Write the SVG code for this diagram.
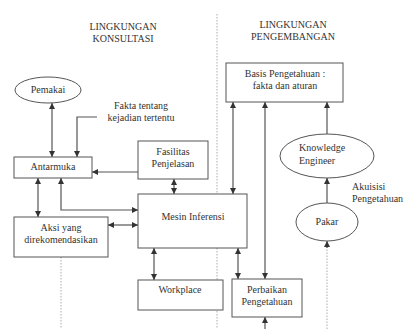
<svg xmlns="http://www.w3.org/2000/svg" width="403" height="329" viewBox="0 0 403 329">
<defs>
<style>
text{font-family:"Liberation Serif","Times New Roman",serif;font-size:10px;fill:#333;text-anchor:middle}
.box{fill:#fff;stroke:#555;stroke-width:1}
.ln{fill:none;stroke:#555;stroke-width:1.2}
.dot{fill:none;stroke:#aaa;stroke-width:1;stroke-dasharray:1.5 1.5}
</style>
<marker id="a" viewBox="0 0 6 6" refX="6" refY="3" markerWidth="6" markerHeight="6" markerUnits="userSpaceOnUse" orient="auto-start-reverse">
<path d="M0,0 L6,3 L0,6 z" fill="#333"/>
</marker>
</defs>
<rect width="403" height="329" fill="#fff"/>
<g id="dividers">
<line class="dot" x1="217" y1="14" x2="217" y2="329"/>
<line class="dot" x1="61" y1="257" x2="61" y2="329"/>
</g>
<g id="headers">
<text x="123" y="30">LINGKUNGAN</text>
<text x="123" y="42">KONSULTASI</text>
<text x="293" y="28">LINGKUNGAN</text>
<text x="293" y="40">PENGEMBANGAN</text>
<text x="141" y="109">Fakta tentang</text>
<text x="141" y="121">kejadian tertentu</text>
<text x="352" y="190" style="text-anchor:start">Akuisisi</text>
<text x="352" y="202" style="text-anchor:start">Pengetahuan</text>
</g>
<g id="connectors">
<line class="ln" x1="52" y1="103" x2="52" y2="157" marker-start="url(#a)" marker-end="url(#a)"/>
<polyline class="ln" points="97,117 77,117 77,157" marker-end="url(#a)"/>
<line class="ln" x1="138" y1="172" x2="92" y2="172" marker-end="url(#a)"/>
<line class="ln" x1="174" y1="179" x2="174" y2="194" marker-start="url(#a)" marker-end="url(#a)"/>
<polyline class="ln" points="61,178 61,210 138,210" marker-start="url(#a)" marker-end="url(#a)"/>
<line class="ln" x1="38" y1="178" x2="38" y2="217" marker-start="url(#a)" marker-end="url(#a)"/>
<line class="ln" x1="108" y1="225" x2="138" y2="225" marker-start="url(#a)" marker-end="url(#a)"/>
<line class="ln" x1="154" y1="248" x2="154" y2="280" marker-start="url(#a)" marker-end="url(#a)"/>
<line class="ln" x1="238" y1="248" x2="238" y2="279" marker-start="url(#a)" marker-end="url(#a)"/>
<line class="ln" x1="233" y1="102" x2="233" y2="194" marker-start="url(#a)" marker-end="url(#a)"/>
<line class="ln" x1="265" y1="102" x2="265" y2="279" marker-start="url(#a)" marker-end="url(#a)"/>
<line class="ln" x1="327" y1="134" x2="327" y2="102" marker-end="url(#a)"/>
<line class="ln" x1="327" y1="203" x2="327" y2="178" marker-end="url(#a)"/>
<line class="ln" x1="265" y1="329" x2="265" y2="317" marker-end="url(#a)"/>
<line class="dot" x1="327" y1="329" x2="327" y2="247"/>
<line class="ln" x1="327" y1="248" x2="327" y2="241" marker-end="url(#a)"/>
</g>
<g id="pemakai">
<ellipse class="box" cx="48" cy="90" rx="33" ry="13"/>
<text x="48" y="93">Pemakai</text>
</g>
<g id="antarmuka">
<rect class="box" x="14" y="157" width="78" height="21"/>
<text x="53" y="170">Antarmuka</text>
</g>
<g id="fasilitas">
<rect class="box" x="138" y="141" width="70" height="38"/>
<text x="173" y="155">Fasilitas</text>
<text x="173" y="167">Penjelasan</text>
</g>
<g id="aksi">
<rect class="box" x="14" y="217" width="94" height="40"/>
<text x="61" y="231">Aksi yang</text>
<text x="61" y="243">direkomendasikan</text>
</g>
<g id="mesin">
<rect class="box" x="138" y="194" width="109" height="54"/>
<text x="193" y="220">Mesin Inferensi</text>
</g>
<g id="workplace">
<rect class="box" x="138" y="280" width="85" height="30"/>
<text x="180" y="293">Workplace</text>
</g>
<g id="perbaikan">
<rect class="box" x="232" y="279" width="70" height="38"/>
<text x="267" y="293">Perbaikan</text>
<text x="267" y="305">Pengetahuan</text>
</g>
<g id="basis">
<rect class="box" x="226" y="63" width="117" height="39"/>
<text x="285" y="77">Basis Pengetahuan :</text>
<text x="285" y="89">fakta dan aturan</text>
</g>
<g id="knowledge-engineer">
<ellipse class="box" cx="327" cy="156" rx="47" ry="22"/>
<text x="299" y="151" style="text-anchor:start">Knowledge</text>
<text x="299" y="164" style="text-anchor:start">Engineer</text>
</g>
<g id="pakar">
<ellipse class="box" cx="327" cy="222" rx="31" ry="19"/>
<text x="327" y="225">Pakar</text>
</g>
</svg>
